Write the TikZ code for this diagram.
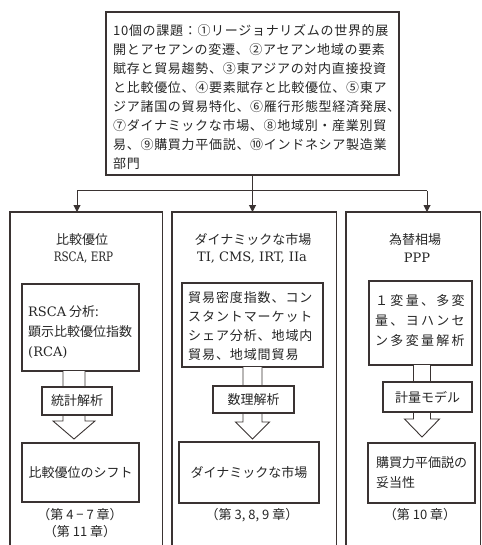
\documentclass[tikz,border=0pt]{standalone}
\usepackage{fontspec}
\setmainfont{Noto Sans CJK JP}
\newfontfamily\lat{DejaVu Serif}
\usetikzlibrary{arrows.meta}
\definecolor{ink}{HTML}{3A3332}
\definecolor{txt}{HTML}{262626}
\newcommand\hollowarrow[6]{% x, ytop, yhead, ytip, shaft half, head half
  \draw[hollow] (#1-#5,#2) -- (#1-#5,#3) -- (#1-#6,#3) -- (#1,#4) -- (#1+#6,#3) -- (#1+#5,#3) -- (#1+#5,#2);}
\begin{document}
\begin{tikzpicture}[x=1pt,y=-1pt,
  line/.style={draw=ink, line width=1.1pt},
  conn/.style={draw=ink, line width=1pt},
  box/.style={draw=ink, line width=1.1pt, fill=white, inner sep=0pt},
  jp/.style={text=txt, inner sep=0pt, font=\fontsize{13}{20}\selectfont},
  la/.style={text=txt, inner sep=0pt, font=\lat\fontsize{13}{15}\selectfont},
  tip/.style={-{Triangle[length=7pt,width=7pt]}},
  hollow/.style={draw=ink, line width=0.9pt, fill=white, line join=miter},
  colbox/.style={inner sep=0pt, anchor=north west, minimum height=333pt}]

\useasboundingbox (0,0) rectangle (481,545);
\fill[white] (0,0) rectangle (481,545);

% columns (open at the bottom)
\node[colbox, minimum width=152pt] (c1) at (10,212) {};
\node[colbox, minimum width=164pt] (c2) at (172,212) {};
\node[colbox, minimum width=133.8pt] (c3) at (346,212) {};
\draw[line] (c1.south west) -- (c1.north west) -- (c1.north east) -- (c1.south east);
\draw[line] (c2.south west) -- (c2.north west) -- (c2.north east) -- (c2.south east);
\draw[line] (c3.south west) -- (c3.north west) -- (c3.north east) -- (c3.south east);

% top box
\node[box, minimum width=293pt, minimum height=163pt] (top) at (252.5,93.5) {};
\node[jp, anchor=north west, align=left, font=\fontsize{13}{19}\selectfont\addfontfeature{LetterSpace=5.4}] (toptext) at (113,24)
{10個の課題：①リージョナリズムの世界的展\\
開とアセアンの変遷、②アセアン地域の要素\\
賦存と貿易趨勢、③東アジアの対内直接投資\\
と比較優位、④要素賦存と比較優位、⑤東ア\\
ジア諸国の貿易特化、⑥雁行形態型経済発展、\\
⑦ダイナミックな市場、⑧地域別・産業別貿\\
易、⑨購買力平価説、⑩インドネシア製造業\\
部門};

% connectors
\coordinate (j) at (252.5,191);
\coordinate (jl) at (77,191);
\coordinate (jr) at (427,191);
\draw[conn] (top.south) -- (j);
\draw[conn] (jl) -- (jr);
\draw[conn, tip] (jl) -- (jl |- c1.north);
\draw[conn, tip] (j) -- (j |- c2.north);
\draw[conn, tip] (jr) -- (jr |- c3.north);

% column titles
\node[jp] (t1) at (82,240) {比較優位};
\node[la] (t1b) at (83.5,258) {\addfontfeature{FakeStretch=0.8}RSCA, ERP};
\node[jp] (t2) at (253,240) {ダイナミックな市場};
\node[la] (t2b) at (252,258) {TI, CMS, IRT, IIa};
\node[jp] (t3) at (415,240) {為替相場};
\node[la] (t3b) at (417,258) {PPP};

% upper inner boxes
\node[box, minimum width=117pt, minimum height=87pt] (a1) at (80.5,327.5) {};
\node[jp, anchor=west, align=left] (a1t) at (28,332) {{\lat RSCA} 分析:\\顕示比較優位指数\\{\lat (RCA)}};
\node[box, minimum width=141pt, minimum height=84pt] (b1) at (252.5,325) {};
\node[jp, anchor=west, align=left, font=\fontsize{13}{19}\selectfont\addfontfeature{LetterSpace=7}] (b1t) at (188,326.5)
{貿易密度指数、コン\\スタントマーケット\\シェア分析、地域内\\貿易、地域間貿易};
\node[box, minimum width=103pt, minimum height=84pt] (cc1) at (420.5,323) {};
\node[jp, anchor=west, align=left, font=\fontsize{13}{20}\selectfont\addfontfeature{LetterSpace=17.7}] (cc1t) at (375,321)
{１変量、多変\\量、ヨハンセ\\ン多変量解析};

% hollow block arrows
\hollowarrow{74}{371}{421}{439}{11}{21}
\hollowarrow{252.5}{367}{422}{439}{9.5}{17}
\hollowarrow{422}{365}{419}{437}{8.5}{17.5}

% method boxes
\node[box, jp, minimum width=70pt, minimum height=28pt] (a2) at (77,401) {統計解析};
\node[box, jp, minimum width=81pt, minimum height=27pt] (b2) at (253.5,399.5) {数理解析};
\node[box, jp, minimum width=89pt, minimum height=30pt] (cc2) at (427.5,397) {計量モデル};

% result boxes
\node[box, jp, minimum width=117pt, minimum height=59pt] (a3) at (80.5,472.5) {比較優位のシフト};
\node[box, jp, minimum width=140pt, minimum height=61pt] (b3) at (249,472.5) {ダイナミックな市場};
\node[box, jp, minimum width=107pt, minimum height=60pt, align=left] (cc3) at (421.5,473) {購買力平価説の\\妥当性};

% chapters
\node[jp] (ch1) at (80,515) {（第 4 − 7 章）};
\node[jp] (ch1b) at (80,532) {（第 11 章）};
\node[jp] (ch2) at (252,515) {（第 3, 8, 9 章）};
\node[jp] (ch3) at (420,515) {（第 10 章）};
\end{tikzpicture}
\end{document}
